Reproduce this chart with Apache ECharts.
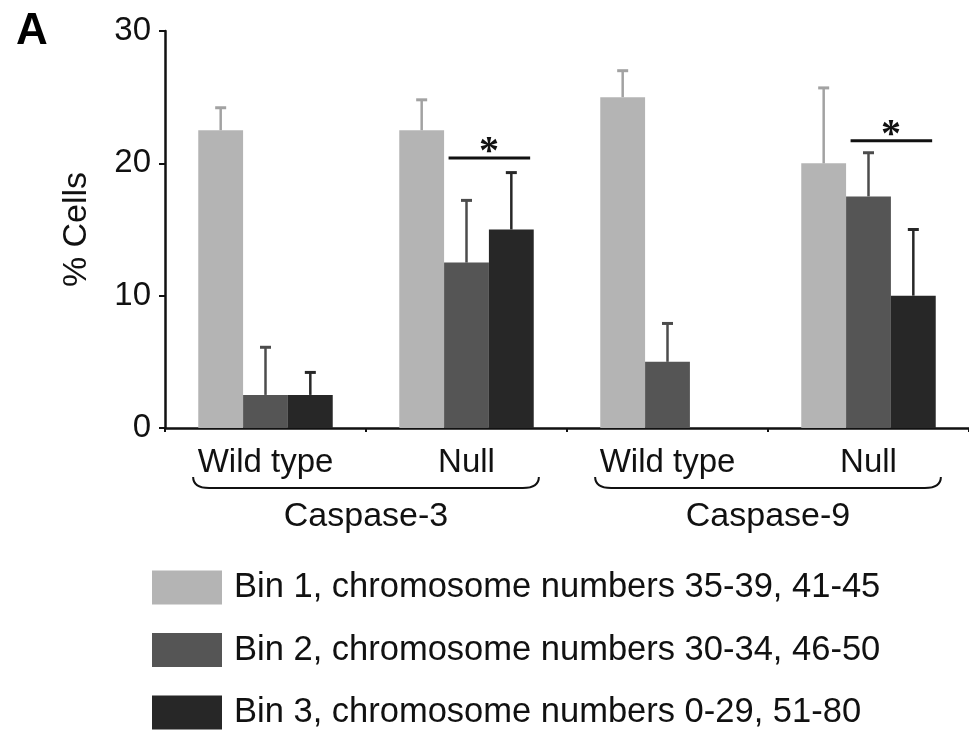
<!DOCTYPE html>
<html>
<head>
<meta charset="utf-8">
<script src="https://cdn.jsdelivr.net/npm/echarts@6/dist/echarts.min.js"></script>
<style>
  html, body { margin: 0; padding: 0; background: #fff; }
  #chart { width: 969px; height: 732px; }
</style>
</head>
<body>
<div id="chart"></div>
<script>
// Genotype groups along the x axis and the gene each pair belongs to
const groups = ['Wild type', 'Null', 'Wild type', 'Null'];
const genes = ['Caspase-3', 'Caspase-9'];

// Series names (chromosome-number bins)
const binNames = [
  'Bin 1, chromosome numbers 35-39, 41-45',
  'Bin 2, chromosome numbers 30-34, 46-50',
  'Bin 3, chromosome numbers 0-29, 51-80'
];

// Mean % cells per group, and upper end of each error bar
const bin1 = [22.5, 22.5, 25, 20];
const bin1Upper = [24.2, 24.8, 27.0, 25.7];
const bin2 = [2.5, 12.5, 5, 17.5];
const bin2Upper = [6.1, 17.2, 7.9, 20.8];
const bin3 = [2.5, 15, null, 10];
const bin3Upper = [4.2, 19.3, null, 15.0];

// Significance brackets: [group index, height in % cells]
const sigMarks = [[1, 20.4], [3, 21.7]];

// y axis ticks
const yMin = 0, yMax = 30, yStep = 10;

const FONT = '"Liberation Sans", Arial, Helvetica, sans-serif';
const colors = ['#b4b4b4', '#555555', '#272727'];
const errColors = ['#a2a2a2', '#4c4c4c', '#272727'];
const BAR_FRAC = 0.223;

const chart = echarts.init(document.getElementById('chart'), null, { renderer: 'canvas' });

function errorSeries(binIdx, means, uppers) {
  const data = means.map((m, i) => (m == null || uppers[i] == null) ? null : [i, m, uppers[i]]).filter(d => d);
  return {
    type: 'custom',
    name: binNames[binIdx] + ' error',
    xAxisIndex: 0, yAxisIndex: 0,
    silent: true,
    z: 3,
    data: data,
    renderItem: function (params, api) {
      const band = api.size([1, 0])[0];
      const bw = band * BAR_FRAC;
      const base = api.coord([api.value(0), api.value(1)]);
      const top = api.coord([api.value(0), api.value(2)]);
      const x = base[0] + (binIdx - 1) * bw;
      const style = { stroke: errColors[binIdx], lineWidth: 2.5 };
      return {
        type: 'group',
        children: [
          { type: 'line', shape: { x1: x, y1: base[1], x2: x, y2: top[1] }, style: style },
          { type: 'line', shape: { x1: x - 5.5, y1: top[1], x2: x + 5.5, y2: top[1] }, style: { stroke: errColors[binIdx], lineWidth: 3 } }
        ]
      };
    }
  };
}

const option = {
  backgroundColor: '#ffffff',
  animation: false,
  title: {
    text: 'A',
    left: 11, top: 5,
    textStyle: { fontFamily: FONT, fontSize: 44, fontWeight: 'bold', color: '#000' }
  },
  legend: {
    orient: 'vertical',
    left: 152, top: 570,
    padding: 0,
    itemWidth: 70, itemHeight: 34, itemGap: 27.5,
    icon: 'rect',
    data: binNames,
    selectedMode: false,
    textStyle: { fontFamily: FONT, fontSize: 34.5, color: '#111', padding: [0, 0, 0, 7] }
  },
  grid: { left: 165, top: 31, width: 807, height: 397 },
  xAxis: [
    {
      type: 'category',
      data: groups,
      axisLine: { show: true, lineStyle: { color: '#111', width: 2.5 } },
      axisTick: { show: true, length: 4, lineStyle: { color: '#111', width: 2 } },
      axisLabel: { fontFamily: FONT, fontSize: 33, color: '#111', margin: 18 },
      splitLine: { show: false }
    },
    {
      type: 'category',
      data: genes,
      position: 'bottom',
      axisLine: { show: false },
      axisTick: { show: false },
      axisLabel: { fontFamily: FONT, fontSize: 34, color: '#111', margin: 72 },
      splitLine: { show: false }
    }
  ],
  yAxis: {
    type: 'value',
    min: yMin, max: yMax, interval: yStep,
    name: '% Cells',
    nameLocation: 'middle',
    nameGap: 71,
    nameTextStyle: { fontFamily: FONT, fontSize: 34, color: '#111' },
    axisLine: { show: true, lineStyle: { color: '#111', width: 2.5 } },
    axisTick: { show: true, length: 6, lineStyle: { color: '#111', width: 2 } },
    axisLabel: { fontFamily: FONT, fontSize: 33, color: '#111', margin: 14 },
    splitLine: { show: false }
  },
  series: [
    { type: 'bar', name: binNames[0], data: bin1, barWidth: (BAR_FRAC * 100) + '%', barGap: '0%', itemStyle: { color: colors[0] }, z: 2 },
    { type: 'bar', name: binNames[1], data: bin2, barWidth: (BAR_FRAC * 100) + '%', barGap: '0%', itemStyle: { color: colors[1] }, z: 2 },
    { type: 'bar', name: binNames[2], data: bin3, barWidth: (BAR_FRAC * 100) + '%', barGap: '0%', itemStyle: { color: colors[2] }, z: 2 },
    errorSeries(0, bin1, bin1Upper),
    errorSeries(1, bin2, bin2Upper),
    errorSeries(2, bin3, bin3Upper),
    // significance bars spanning bin 2 and bin 3, with asterisk
    {
      type: 'custom',
      name: 'significance',
      xAxisIndex: 0, yAxisIndex: 0,
      silent: true, z: 4,
      data: sigMarks,
      renderItem: function (params, api) {
        const band = api.size([1, 0])[0];
        const bw = band * BAR_FRAC;
        const p = api.coord([api.value(0), api.value(1)]);
        return {
          type: 'group',
          children: [
            { type: 'line', shape: { x1: p[0] - bw * 0.4, y1: p[1], x2: p[0] + bw * 1.42, y2: p[1] }, style: { stroke: '#111', lineWidth: 3 } },
            { type: 'text', x: p[0] + bw * 0.5, y: p[1] + 15, style: { text: '*', fill: '#111', font: 'bold 40px "Liberation Serif", "Times New Roman", serif', align: 'center', verticalAlign: 'bottom' } }
          ]
        };
      }
    },
    // curly brackets grouping the genotypes of each gene
    {
      type: 'custom',
      name: 'brackets',
      xAxisIndex: 1, yAxisIndex: 0,
      silent: true, clip: false, z: 4,
      data: genes.map((g, i) => [i, 0]),
      renderItem: function (params, api) {
        const band = api.size([1, 0])[0];
        const half = band * 0.43;
        const p = api.coord([api.value(0), 0]);
        const cx = p[0], y = p[1] + 60;
        const path = 'M' + (cx - half) + ',' + (y - 11) +
          'Q' + (cx - half) + ',' + y + ' ' + (cx - half + 16) + ',' + y +
          'L' + (cx + half - 16) + ',' + y +
          'Q' + (cx + half) + ',' + y + ' ' + (cx + half) + ',' + (y - 11);
        return {
          type: 'path',
          shape: { pathData: path },
          style: { stroke: '#111', lineWidth: 2, fill: null }
        };
      }
    }
  ]
};

chart.setOption(option);
</script>
</body>
</html>
